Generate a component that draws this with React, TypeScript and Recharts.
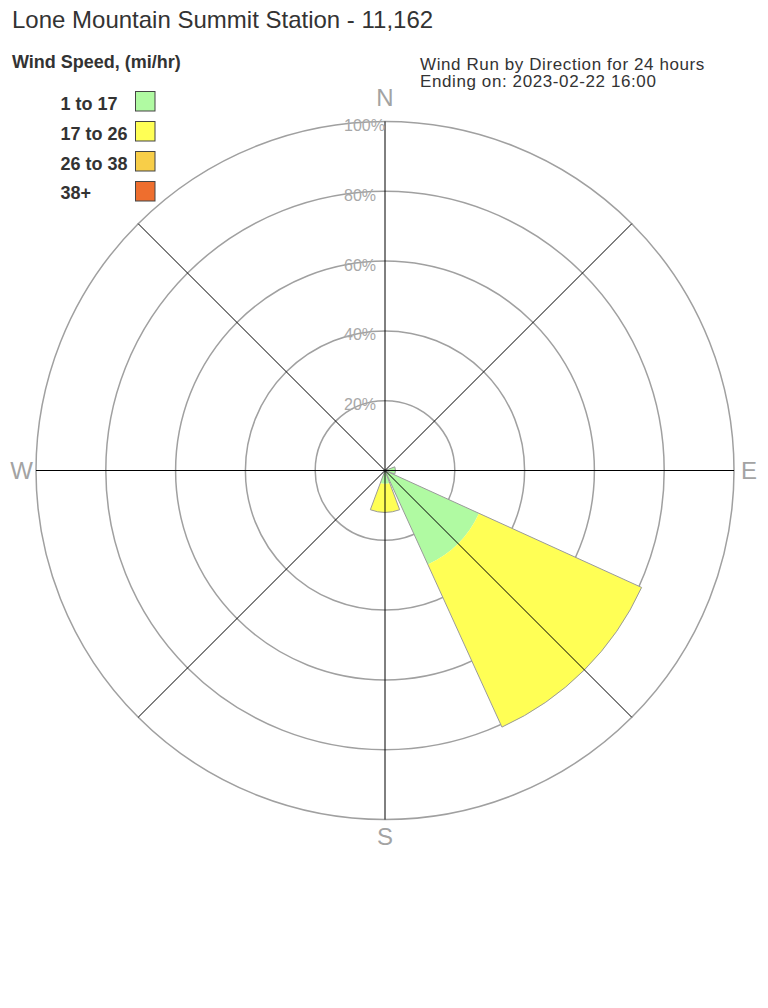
import React from 'react';
import { RadialBarChart, RadialBar, PolarGrid, PolarAngleAxis, PolarRadiusAxis } from 'recharts';

const directions = ['N', 'NE', 'E', 'SE', 'S', 'SW', 'W', 'NW'];
const speedBins = ['1 to 17', '17 to 26', '26 to 38', '38+'];
const binColors = ['#b0faa2', '#ffff55', '#f8ce48', '#ee6e2e'];
const bin1 = [0, 0, 3, 29.6, 3.8, 0, 0, 0];
const bin2 = [0, 0, 0, 51.2, 8.2, 0, 0, 0];
const bin3 = [0, 0, 0, 0, 0, 0, 0, 0];
const bin4 = [0, 0, 0, 0, 0, 0, 0, 0];
const radiusTicks = [0, 20, 40, 60, 80, 100];
const cardinalLabels = ['N', 'E', 'S', 'W'];

const title = 'Lone Mountain Summit Station - 11,162';
const legendTitle = 'Wind Speed, (mi/hr)';
const subtitle1 = 'Wind Run by Direction for 24 hours';
const subtitle2 = 'Ending on: 2023-02-22 16:00';

const bins = [bin1, bin2, bin3, bin4];
const data = directions.map((d, i) => {
  const row: any = { dir: d, total: 0 };
  bins.forEach((b, k) => {
    row['b' + k] = b[i];
    row.total += b[i];
  });
  return row;
});

const FONT = '"Liberation Sans", Arial, Helvetica, sans-serif';
const W = 768;
const H = 1000;
const CX = 385;
const CY = 470.5;
const R = 349;

const AngleTick = (props: any) => {
  const { x, y, payload } = props;
  const v = payload.value;
  if (!cardinalLabels.includes(v)) return <g />;
  let tx = x;
  let ty = y;
  let anchor = 'middle';
  if (v === 'N') { ty = y - 8; }
  if (v === 'E') { tx = x - 1; ty = y + 8; anchor = 'start'; }
  if (v === 'S') { ty = y + 17.5; }
  if (v === 'W') { tx = x + 5; ty = y + 8; anchor = 'end'; }
  return (
    <text x={tx} y={ty} textAnchor={anchor} fontSize={24} fill="#a3a3a3" fontFamily={FONT}>
      {v}
    </text>
  );
};

const RadiusTick = (props: any) => {
  const { x, y, payload } = props;
  if (payload.value === 0) return <g />;
  return (
    <text x={x - 41} y={y + 9.5} textAnchor="start" fontSize={16} fill="#a8a8a8" fontFamily={FONT}>
      {payload.value + '%'}
    </text>
  );
};

const layer: React.CSSProperties = { position: 'absolute', left: 0, top: 0 };

export default function App() {
  return (
    <div style={{ position: 'absolute', left: 0, top: 0, width: W, height: H, background: '#fff' }}>
      {/* sectors layer: bands centred on the compass directions */}
      <div style={layer}>
        <RadialBarChart
          width={W}
          height={H}
          data={data}
          cx={CX}
          cy={CY}
          innerRadius={0}
          outerRadius={R}
          startAngle={67.5}
          endAngle={-292.5}
          layout="centric"
          barCategoryGap={2}
          barGap={-41}
          margin={{ top: 0, right: 0, bottom: 0, left: 0 }}
        >
          <PolarGrid gridType="circle" radialLines={false} stroke="#a0a0a0" strokeWidth={1.5} />
          {speedBins.map((name, k) => (
            <RadialBar
              key={name}
              dataKey={'b' + k}
              name={name}
              stackId="speed"
              fill={binColors[k]}
              isAnimationActive={false}
            />
          ))}
          <RadialBar dataKey="total" stackId="outline" fill="none" stroke="#9a9a9a" strokeWidth={1} isAnimationActive={false} />
          <PolarAngleAxis dataKey="dir" type="category" axisLine={false} tickLine={false} tick={false} />
          <PolarRadiusAxis angle={90} type="number" domain={[0, 100]} ticks={radiusTicks} axisLine={false} tickLine={false} tick={false} />
        </RadialBarChart>
      </div>
      {/* spokes and labels layer: ticks on the compass directions */}
      <div style={layer}>
        <RadialBarChart
          width={W}
          height={H}
          data={data}
          cx={CX}
          cy={CY}
          innerRadius={0}
          outerRadius={R}
          startAngle={90}
          endAngle={-270}
          layout="centric"
          barCategoryGap={0}
          margin={{ top: 0, right: 0, bottom: 0, left: 0 }}
        >
          <RadialBar dataKey="total" fill="none" stroke="none" isAnimationActive={false} />
          <PolarGrid gridType="circle" polarRadius={[]} radialLines={true} stroke="#000" strokeWidth={1} />
          <PolarAngleAxis dataKey="dir" type="category" axisLine={false} tickLine={false} tick={AngleTick} />
          <PolarRadiusAxis
            angle={90}
            type="number"
            domain={[0, 100]}
            ticks={radiusTicks}
            axisLine={false}
            tickLine={false}
            tick={RadiusTick}
          />
        </RadialBarChart>
      </div>
      <svg width={W} height={220} style={{ position: 'absolute', left: 0, top: 0, pointerEvents: 'none' }}>
        <text x={12} y={28.3} fontSize={24} fill="#333" fontFamily={FONT}>{title}</text>
        <text x={12} y={68} fontSize={18} fontWeight="bold" fill="#333" fontFamily={FONT}>{legendTitle}</text>
        <text x={420} y={70} fontSize={17} letterSpacing={0.6} fill="#333" fontFamily={FONT}>{subtitle1}</text>
        <text x={420} y={87} fontSize={17} letterSpacing={0.6} fill="#333" fontFamily={FONT}>{subtitle2}</text>
        {speedBins.map((name, k) => (
          <g key={name}>
            <text x={60.5} y={110 + 29.8 * k} fontSize={18} fontWeight="bold" fill="#333" fontFamily={FONT}>{name}</text>
            <rect x={135.5} y={91.5 + 30 * k} width={19.5} height={19.5} fill={binColors[k]} stroke="#444" strokeWidth={1} />
          </g>
        ))}
      </svg>
    </div>
  );
}
